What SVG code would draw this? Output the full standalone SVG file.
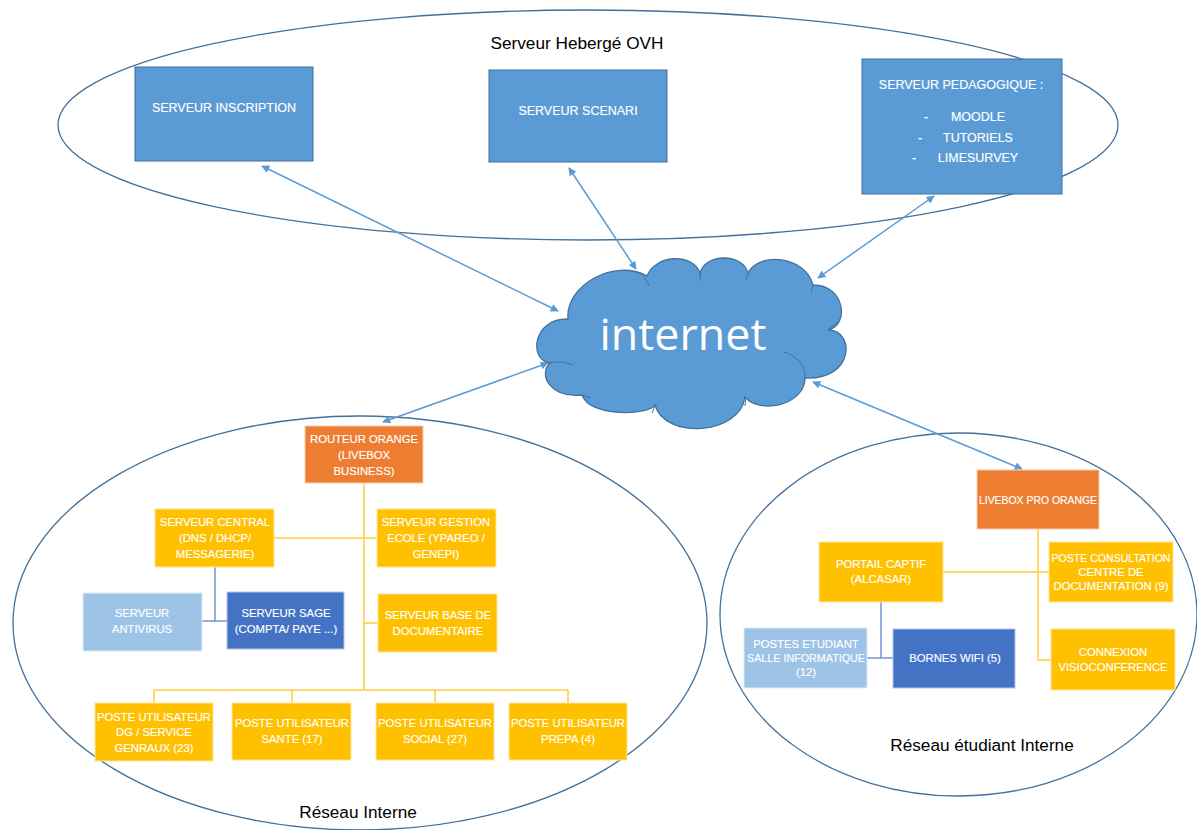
<svg xmlns="http://www.w3.org/2000/svg" width="1197" height="830" viewBox="0 0 1197 830">
<style>
.ell{fill:none;stroke:#41719C;stroke-width:1.3}
.lbl{font-family:"Liberation Sans",Arial,sans-serif;font-size:17.2px;fill:#000;text-anchor:middle}
.bt{font-family:"Liberation Sans",Arial,sans-serif;fill:#fff;text-anchor:middle;stroke:#fff;stroke-width:0.15}
.t1{font-size:12.5px}
.t2{font-size:11.3px}
.b1{fill:#5B9BD5;stroke:#41719C;stroke-width:1}
.or{fill:#ED7D31;stroke:#F8CBAD;stroke-width:1}
.ye{fill:#FFC000;stroke:#FFE699;stroke-width:1}
.lb{fill:#9DC3E6;stroke:#DEEBF7;stroke-width:1}
.db{fill:#4472C4;stroke:#B4C7E7;stroke-width:1}
.arr{fill:none;stroke:#5B9BD5;stroke-width:1.5;marker-start:url(#ah);marker-end:url(#ah)}
.yl{fill:none;stroke:#FFCD3C;stroke-width:1.5}
.bl{fill:none;stroke:#7594D4;stroke-width:1.5}
.ci{fill:none;stroke:#41719C;stroke-width:1}
</style>
<defs>
<marker id="ah" viewBox="0 0 10 10" refX="9" refY="5" markerWidth="10" markerHeight="8" markerUnits="userSpaceOnUse" orient="auto-start-reverse">
<path d="M0,0 L10,5 L0,10 z" fill="#5B9BD5"/>
</marker>
</defs>

<g id="zone-ovh">
<ellipse class="ell" cx="588" cy="125" rx="530" ry="115"/>
<text class="lbl" x="577" y="49">Serveur Hebergé OVH</text>
</g>
<g id="zone-interne">
<ellipse class="ell" cx="360" cy="623" rx="347" ry="207"/>
<text class="lbl" x="358" y="818">Réseau Interne</text>
</g>
<g id="zone-etudiant">
<ellipse class="ell" cx="958.5" cy="614.5" rx="238.5" ry="181.5"/>
<text class="lbl" x="982" y="751">Réseau étudiant Interne</text>
</g>

<g id="connectors">
<line class="arr" x1="262" y1="166" x2="558" y2="311"/>
<line class="arr" x1="569" y1="168" x2="636" y2="269"/>
<line class="arr" x1="934" y1="196" x2="818" y2="278"/>
<line class="arr" x1="548" y1="363" x2="383" y2="422"/>
<line class="arr" x1="813" y1="382" x2="1022" y2="469"/>
<path class="yl" d="M364,483 V690 M274,538 H377 M364,623 H378 M154,690 H568 M154,690 V703 M292,690 V703 M435,690 V703 M568,690 V703"/>
<path class="bl" d="M215,567 V621 M202,621 H227"/>
<path class="yl" d="M1038,529 V660 H1051 M943,572 H1049"/>
<path class="bl" d="M881,602 V658 M867,658 H893"/>
</g>

<g id="cloud">
<path d="M568,319 C565,285 615,258 647,276 C655,255 692,252 700,273 C705,253 743,253 748,273 C758,252 805,255 813,285 C845,285 850,325 828,330 C855,330 855,380 805,378 C805,405 760,415 745,397 C740,435 665,440 655,405 C650,415 590,418 582,395 C550,398 538,375 550,363 C528,360 533,318 568,319 Z" fill="#5B9BD5" stroke="#41719C" stroke-width="1.3"/>
<path class="ci" d="M550,363 Q561,360 573,365 M643,277 Q648,281 649,286 M700,273 Q701,277 700,281 M748,273 Q747,277 746,280 M813,285 Q812,289 811,292 M828,330 Q833,325 838,322 M784,352 C797,356 806,366 805,378 M745,397 Q746,402 745,406 M655,405 Q654,409 652,413 M582,395 Q586,397 591,398"/>
<text x="683" y="350" font-family="'Open Sans','Liberation Sans',sans-serif" font-size="44" fill="#fff" text-anchor="middle" textLength="167" lengthAdjust="spacingAndGlyphs">internet</text>
</g>

<g id="srv-inscription">
<rect class="b1" x="135" y="67" width="178" height="94"/>
<text class="bt t1" x="224" y="112">SERVEUR INSCRIPTION</text>
</g>
<g id="srv-scenari">
<rect class="b1" x="489" y="70" width="178" height="92"/>
<text class="bt t1" x="578" y="115">SERVEUR SCENARI</text>
</g>
<g id="srv-pedagogique">
<rect class="b1" x="862" y="59" width="200" height="135"/>
<text class="bt t1" x="961" y="89">SERVEUR PEDAGOGIQUE :</text>
<text class="bt t1" x="926" y="121">-</text><text class="bt t1" x="978" y="121">MOODLE</text>
<text class="bt t1" x="920" y="142">-</text><text class="bt t1" x="978" y="142">TUTORIELS</text>
<text class="bt t1" x="914" y="162">-</text><text class="bt t1" x="978" y="162">LIMESURVEY</text>
</g>

<g id="routeur-orange">
<rect class="or" x="305" y="426" width="118" height="57"/>
<text class="bt t2" x="364" y="443">ROUTEUR ORANGE</text>
<text class="bt t2" x="364" y="459">(LIVEBOX</text>
<text class="bt t2" x="364" y="475">BUSINESS)</text>
</g>
<g id="srv-central">
<rect class="ye" x="155" y="509" width="119" height="58"/>
<text class="bt t2" x="215" y="526">SERVEUR CENTRAL</text>
<text class="bt t2" x="215" y="542">(DNS / DHCP/</text>
<text class="bt t2" x="215" y="558">MESSAGERIE)</text>
</g>
<g id="srv-gestion">
<rect class="ye" x="377" y="509" width="119" height="58"/>
<text class="bt t2" x="436" y="526">SERVEUR GESTION</text>
<text class="bt t2" x="436" y="542">ECOLE (YPAREO /</text>
<text class="bt t2" x="436" y="558">GENEPI)</text>
</g>
<g id="srv-antivirus">
<rect class="lb" x="83" y="593" width="119" height="58"/>
<text class="bt t2" x="142" y="617">SERVEUR</text>
<text class="bt t2" x="142" y="633">ANTIVIRUS</text>
</g>
<g id="srv-sage">
<rect class="db" x="227" y="592" width="117" height="57"/>
<text class="bt t2" x="286" y="617">SERVEUR SAGE</text>
<text class="bt t2" x="286" y="633">(COMPTA/ PAYE ...)</text>
</g>
<g id="srv-base">
<rect class="ye" x="378" y="594" width="119" height="58"/>
<text class="bt t2" x="438" y="619">SERVEUR BASE DE</text>
<text class="bt t2" x="438" y="635">DOCUMENTAIRE</text>
</g>
<g id="poste-dg">
<rect class="ye" x="95" y="703" width="118" height="58"/>
<text class="bt t2" x="154" y="721">POSTE UTILISATEUR</text>
<text class="bt t2" x="154" y="736">DG / SERVICE</text>
<text class="bt t2" x="154" y="752">GENRAUX (23)</text>
</g>
<g id="poste-sante">
<rect class="ye" x="232" y="703" width="119" height="57"/>
<text class="bt t2" x="292" y="727">POSTE UTILISATEUR</text>
<text class="bt t2" x="292" y="743">SANTE (17)</text>
</g>
<g id="poste-social">
<rect class="ye" x="376" y="703" width="118" height="57"/>
<text class="bt t2" x="435" y="727">POSTE UTILISATEUR</text>
<text class="bt t2" x="435" y="743">SOCIAL (27)</text>
</g>
<g id="poste-prepa">
<rect class="ye" x="509" y="703" width="118" height="57"/>
<text class="bt t2" x="568" y="727">POSTE UTILISATEUR</text>
<text class="bt t2" x="568" y="743">PREPA (4)</text>
</g>

<g id="livebox-pro">
<rect class="or" x="977" y="470" width="122" height="59"/>
<text class="bt t2" x="1038" y="504" textLength="118" lengthAdjust="spacingAndGlyphs">LIVEBOX  PRO ORANGE</text>
</g>
<g id="portail-captif">
<rect class="ye" x="819" y="542" width="124" height="60"/>
<text class="bt t2" x="881" y="568">PORTAIL CAPTIF</text>
<text class="bt t2" x="881" y="583">(ALCASAR)</text>
</g>
<g id="poste-consultation">
<rect class="ye" x="1049" y="542" width="124" height="60"/>
<text class="bt t2" x="1111" y="562" textLength="119" lengthAdjust="spacingAndGlyphs">POSTE CONSULTATION</text>
<text class="bt t2" x="1111" y="576">CENTRE DE</text>
<text class="bt t2" x="1111" y="590">DOCUMENTATION (9)</text>
</g>
<g id="connexion-visio">
<rect class="ye" x="1051" y="629" width="124" height="61"/>
<text class="bt t2" x="1113" y="656">CONNEXION</text>
<text class="bt t2" x="1113" y="671">VISIOCONFERENCE</text>
</g>
<g id="postes-etudiant">
<rect class="lb" x="744" y="628" width="123" height="60"/>
<text class="bt t2" x="806" y="648">POSTES ETUDIANT</text>
<text class="bt t2" x="806" y="662" textLength="118" lengthAdjust="spacingAndGlyphs">SALLE INFORMATIQUE</text>
<text class="bt t2" x="806" y="676">(12)</text>
</g>
<g id="bornes-wifi">
<rect class="db" x="893" y="629" width="122" height="59"/>
<text class="bt t2" x="955" y="662">BORNES WIFI (5)</text>
</g>
</svg>
